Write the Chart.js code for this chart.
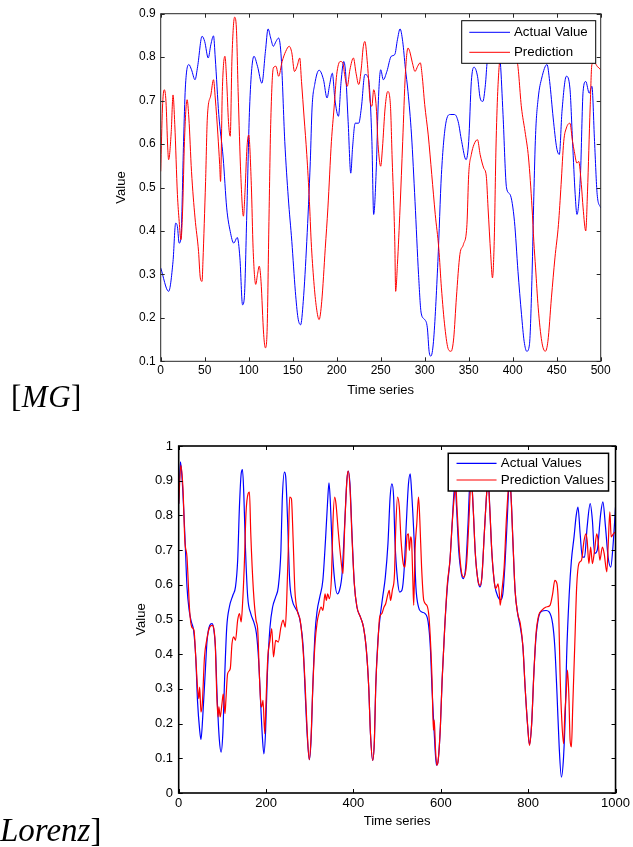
<!DOCTYPE html>
<html>
<head>
<meta charset="utf-8">
<script src="https://cdn.jsdelivr.net/npm/chart.js@4.4.1/dist/chart.umd.min.js"></script>
<style>
  html, body { margin:0; padding:0; background:#fff; }
  body { width:633px; height:847px; position:relative; overflow:hidden; }
  .box { position:absolute; left:0; width:633px; }
  #mgBox { top:0; height:400px; }
  #lzBox { top:420px; height:427px; }
  .lab { position:absolute; font-family:'Liberation Serif','Times New Roman',serif; color:#000; white-space:nowrap; line-height:normal; }
  .lab i { font-style:italic; }
</style>
</head>
<body>
<div class="box" id="mgBox"><canvas id="mg"></canvas></div>
<div class="box" id="lzBox"><canvas id="lz"></canvas></div>
<div class="lab" id="mgLab" style="left:11px; top:379px; font-size:31px; letter-spacing:0.5px;">[<i>MG</i>]</div>
<div class="lab" id="lzLab" style="left:0px; top:812px; font-size:33px;"><i>Lorenz</i>]</div>
<script>
// ---------- MG data ----------
const mgActualT = [0,9,14,17,19,21,23,26,28,32,35,39,42,47,50,54,57,60,62,66,71,75,79,83,87,90,93,95,98,101,106,110,115,119,122,125,128,131,134,137,141,145,149,153,156,159,162,166,170,172,175,180,185,189,192,195,198,202,205,208,210,213,216,218,221,225,228,232,236,240,242,245,247,250,253,257,262,266,269,272,275,278,281,285,289,293,296,300,303,305,307,310,315,319,324,329,334,338,342,347,350,353,356,360,363,366,369,371,375,379,383,386,389,393,397,402,406,410,413,416,419,422,424,426,429,433,439,442,446,450,453,456,461,465,468,471,473,477,480,483,487,490,493,496,500];
const mgActualV = [0.315,0.261,0.33,0.418,0.41,0.372,0.384,0.606,0.729,0.783,0.771,0.748,0.779,0.848,0.836,0.798,0.829,0.849,0.798,0.668,0.568,0.453,0.399,0.372,0.385,0.338,0.23,0.246,0.453,0.683,0.802,0.779,0.74,0.813,0.865,0.844,0.825,0.836,0.844,0.798,0.606,0.476,0.376,0.261,0.2,0.184,0.238,0.376,0.56,0.683,0.737,0.77,0.748,0.706,0.737,0.763,0.702,0.664,0.744,0.79,0.767,0.652,0.533,0.591,0.648,0.648,0.683,0.76,0.752,0.606,0.438,0.545,0.683,0.771,0.748,0.767,0.802,0.806,0.84,0.865,0.836,0.775,0.721,0.621,0.468,0.3,0.211,0.196,0.177,0.123,0.112,0.146,0.33,0.53,0.648,0.668,0.668,0.652,0.606,0.564,0.606,0.744,0.777,0.756,0.706,0.698,0.737,0.79,0.83,0.845,0.82,0.787,0.668,0.499,0.484,0.422,0.307,0.208,0.146,0.123,0.138,0.3,0.48,0.622,0.706,0.752,0.783,0.744,0.66,0.591,0.576,0.675,0.756,0.729,0.606,0.484,0.438,0.53,0.721,0.744,0.717,0.733,0.606,0.484,0.453];
const mgPredT = [0,2,4,6,8,9,12,14,16,19,21,23,25,27,30,32,35,39,43,45,47,48,51,53,57,60,62,65,67,68,70,73,75,77,79,81,84,86,88,91,94,96,98,100,103,105,108,110,112,114,117,119,121,123,125,128,131,134,138,142,146,149,152,155,158,160,163,166,169,171,174,177,180,183,187,190,194,197,200,204,207,209,212,215,219,222,225,228,230,232,235,238,240,242,245,247,250,252,255,258,261,263,266,267,269,272,275,278,281,283,286,289,292,295,297,300,304,308,312,316,319,323,327,330,333,336,340,344,348,350,353,356,360,363,367,370,372,375,377,379,381,383,386,390,395,400,405,410,414,418,422,424,426,429,433,437,440,444,448,452,455,458,461,465,468,470,473,475,478,480,483,485,488,490,493,496,500];
const mgPredV = [0.537,0.683,0.725,0.698,0.591,0.564,0.629,0.713,0.645,0.484,0.422,0.38,0.453,0.606,0.702,0.66,0.537,0.43,0.353,0.292,0.284,0.33,0.514,0.66,0.713,0.748,0.706,0.621,0.553,0.514,0.721,0.802,0.744,0.652,0.618,0.798,0.892,0.867,0.721,0.53,0.434,0.499,0.591,0.621,0.505,0.36,0.277,0.3,0.319,0.284,0.162,0.131,0.177,0.422,0.645,0.775,0.779,0.756,0.79,0.813,0.825,0.81,0.767,0.779,0.798,0.744,0.66,0.576,0.468,0.376,0.284,0.223,0.196,0.238,0.36,0.453,0.606,0.683,0.76,0.79,0.787,0.76,0.733,0.771,0.798,0.763,0.737,0.775,0.821,0.836,0.783,0.698,0.687,0.725,0.683,0.599,0.549,0.591,0.683,0.721,0.691,0.568,0.376,0.261,0.323,0.453,0.606,0.76,0.821,0.813,0.787,0.767,0.779,0.787,0.76,0.691,0.621,0.53,0.438,0.36,0.269,0.177,0.127,0.123,0.154,0.246,0.346,0.369,0.415,0.53,0.576,0.599,0.61,0.576,0.545,0.526,0.453,0.346,0.292,0.376,0.591,0.721,0.798,0.8,0.79,0.8,0.79,0.683,0.629,0.568,0.453,0.376,0.315,0.223,0.146,0.123,0.146,0.246,0.338,0.415,0.507,0.606,0.637,0.648,0.606,0.583,0.556,0.56,0.507,0.453,0.4,0.49,0.683,0.783,0.787,0.779,0.771];
const mgXTicks = [0,50,100,150,200,250,300,350,400,450,500];
const mgYTicks = [0.1,0.2,0.3,0.4,0.5,0.6,0.7,0.8,0.9];
const mgLegend = ['Actual Value','Prediction'];

// ---------- Lorenz data ----------
const lzActualT = [0,4,8,14,19,24,29,34,39,43,48,51,55,61,65,71,76,80,84,88,93,97,101,105,110,116,124,130,135,139,143,146,149,153,158,165,173,178,183,188,192,195,199,203,209,215,222,228,234,237,242,245,249,254,260,268,274,279,285,289,294,299,303,307,312,317,323,330,336,341,344,347,351,357,363,368,374,380,385,388,392,397,402,408,416,423,429,435,439,444,448,451,456,461,467,473,479,484,488,492,495,501,506,511,516,521,526,530,533,539,543,549,556,564,571,576,580,585,590,594,599,603,609,615,621,626,630,633,636,641,647,651,657,662,667,670,674,679,685,690,694,700,706,709,712,717,723,731,737,742,747,752,756,758,761,765,770,776,782,788,793,799,803,808,813,818,824,831,841,848,856,861,866,871,876,881,885,888,894,899,905,910,914,919,924,929,935,942,947,952,958,966,971,977,983,989,994,1000];
const lzActualV = [0.834,0.954,0.901,0.747,0.594,0.526,0.493,0.469,0.392,0.267,0.181,0.154,0.219,0.354,0.44,0.483,0.488,0.474,0.421,0.277,0.154,0.118,0.171,0.325,0.478,0.536,0.57,0.594,0.671,0.824,0.92,0.932,0.863,0.699,0.565,0.517,0.488,0.459,0.382,0.248,0.152,0.113,0.181,0.344,0.478,0.536,0.565,0.594,0.699,0.843,0.925,0.911,0.795,0.613,0.555,0.531,0.517,0.488,0.421,0.305,0.171,0.096,0.152,0.305,0.459,0.526,0.565,0.613,0.728,0.843,0.894,0.843,0.718,0.613,0.574,0.584,0.632,0.776,0.901,0.928,0.891,0.738,0.603,0.536,0.507,0.478,0.421,0.305,0.171,0.094,0.152,0.305,0.44,0.507,0.565,0.622,0.718,0.853,0.891,0.853,0.728,0.613,0.579,0.584,0.642,0.776,0.891,0.92,0.872,0.728,0.594,0.536,0.522,0.517,0.493,0.421,0.296,0.171,0.08,0.094,0.19,0.325,0.478,0.594,0.671,0.776,0.863,0.885,0.824,0.699,0.632,0.618,0.651,0.767,0.9,0.905,0.824,0.69,0.613,0.594,0.622,0.757,0.88,0.905,0.824,0.69,0.603,0.565,0.557,0.574,0.661,0.786,0.89,0.9,0.853,0.728,0.584,0.517,0.478,0.421,0.305,0.19,0.14,0.2,0.344,0.45,0.507,0.524,0.526,0.522,0.488,0.421,0.286,0.133,0.046,0.104,0.229,0.392,0.574,0.671,0.738,0.8,0.824,0.747,0.68,0.68,0.767,0.834,0.786,0.69,0.699,0.805,0.839,0.767,0.68,0.651,0.709,0.824];
const lzPredT = [0,5,10,14,19,22,25,30,35,39,43,46,48,51,54,59,64,71,77,81,84,87,90,92,95,99,102,106,108,112,118,122,126,130,135,139,143,146,150,154,159,162,165,171,177,181,184,188,190,193,197,200,204,209,213,217,222,228,234,239,244,247,251,254,258,262,266,272,278,283,289,294,299,303,307,312,317,321,326,330,335,338,341,345,350,353,357,360,365,370,376,380,385,388,392,397,402,408,416,423,429,435,439,444,448,451,456,460,465,470,474,479,482,485,489,494,497,501,505,509,514,518,523,526,528,531,533,536,538,541,545,549,552,556,561,568,573,577,580,583,585,588,591,594,599,603,609,615,621,626,632,634,637,643,649,653,659,664,668,670,674,679,685,690,694,700,706,708,712,717,722,725,728,731,734,736,740,745,750,755,757,760,765,770,776,782,788,793,799,803,808,813,818,824,831,841,850,856,861,866,870,873,877,881,884,887,890,893,896,899,902,907,911,916,922,928,932,935,939,943,947,952,957,960,964,970,974,980,983,987,990,995,1000];
const lzPredV = [0.834,0.944,0.872,0.728,0.68,0.603,0.526,0.478,0.469,0.392,0.305,0.272,0.305,0.233,0.257,0.392,0.44,0.478,0.483,0.469,0.421,0.286,0.219,0.248,0.219,0.257,0.286,0.229,0.267,0.344,0.358,0.43,0.45,0.44,0.498,0.517,0.493,0.541,0.651,0.805,0.863,0.867,0.747,0.584,0.498,0.469,0.363,0.257,0.248,0.267,0.171,0.267,0.392,0.44,0.474,0.392,0.44,0.435,0.478,0.498,0.478,0.546,0.709,0.853,0.848,0.728,0.584,0.522,0.498,0.44,0.325,0.181,0.096,0.161,0.305,0.43,0.493,0.517,0.536,0.526,0.574,0.555,0.574,0.56,0.632,0.776,0.853,0.834,0.757,0.69,0.632,0.767,0.901,0.928,0.882,0.728,0.603,0.536,0.507,0.478,0.421,0.305,0.171,0.094,0.152,0.305,0.43,0.507,0.517,0.536,0.546,0.574,0.584,0.555,0.584,0.632,0.767,0.853,0.824,0.728,0.661,0.651,0.743,0.747,0.699,0.738,0.728,0.613,0.541,0.699,0.776,0.853,0.786,0.651,0.555,0.541,0.507,0.421,0.325,0.181,0.21,0.123,0.08,0.094,0.19,0.325,0.478,0.603,0.671,0.776,0.872,0.895,0.824,0.69,0.627,0.622,0.661,0.776,0.882,0.9,0.824,0.69,0.613,0.598,0.622,0.757,0.882,0.9,0.824,0.69,0.613,0.589,0.594,0.603,0.574,0.541,0.584,0.651,0.786,0.882,0.895,0.872,0.728,0.584,0.517,0.488,0.421,0.305,0.19,0.137,0.2,0.344,0.459,0.512,0.526,0.536,0.541,0.574,0.613,0.603,0.517,0.344,0.209,0.142,0.229,0.286,0.354,0.286,0.152,0.133,0.248,0.44,0.594,0.661,0.671,0.728,0.747,0.728,0.661,0.709,0.661,0.699,0.747,0.728,0.671,0.709,0.69,0.637,0.709,0.81,0.738,0.747,0.752];
const lzXTicks = [0,200,400,600,800,1000];
const lzYTicks = [0,0.1,0.2,0.3,0.4,0.5,0.6,0.7,0.8,0.9,1];
const lzLegend = ['Actual Values','Prediction Values'];

const BLUE = '#0000ff', RED = '#ff0000';
const FONT = "'Liberation Sans', Arial, Helvetica, sans-serif";
const pts = (t, v) => t.map((x, i) => ({x, y: v[i]}));

// box + inward ticks + legend
const matlabPlugin = {
  id: 'matlab',
  afterDraw(chart, args, o) {
    const {ctx, chartArea: a} = chart;
    const xs = chart.scales.x, ys = chart.scales.y;
    ctx.save();
    ctx.strokeStyle = o.axisColor;
    ctx.lineWidth = o.tickWidth;
    ctx.beginPath();
    xs.ticks.forEach(t => {
      const px = Math.round(xs.getPixelForValue(t.value)) + 0.5;
      ctx.moveTo(px, a.bottom); ctx.lineTo(px, a.bottom - o.tickLen);
      ctx.moveTo(px, a.top); ctx.lineTo(px, a.top + o.tickLen);
    });
    ys.ticks.forEach(t => {
      const py = Math.round(ys.getPixelForValue(t.value)) + 0.5;
      ctx.moveTo(a.left, py); ctx.lineTo(a.left + o.tickLen, py);
      ctx.moveTo(a.right, py); ctx.lineTo(a.right - o.tickLen, py);
    });
    ctx.stroke();
    ctx.lineWidth = o.boxWidth;
    ctx.strokeRect(a.left, a.top, a.right - a.left, a.bottom - a.top);
    // legend
    const L = o.legend;
    const bx = a.right - L.right - L.w, by = a.top + L.top;
    ctx.fillStyle = '#fff';
    ctx.fillRect(bx, by, L.w, L.h);
    ctx.lineWidth = L.border;
    ctx.strokeStyle = '#000';
    ctx.strokeRect(bx, by, L.w, L.h);
    ctx.font = L.fontSize + 'px ' + FONT;
    ctx.textBaseline = 'middle';
    ctx.textAlign = 'left';
    chart.data.datasets.forEach((ds, i) => {
      const ly = by + L.row0 + i * L.rowH;
      ctx.strokeStyle = ds.borderColor;
      ctx.lineWidth = ds.borderWidth;
      ctx.beginPath();
      ctx.moveTo(bx + L.lineX0, ly); ctx.lineTo(bx + L.lineX1, ly);
      ctx.stroke();
      ctx.fillStyle = '#000';
      ctx.fillText(ds.label, bx + L.textX, ly + 0.5);
    });
    ctx.restore();
  }
};

function makeChart(id, cfg) {
  return new Chart(document.getElementById(id), {
    type: 'line',
    data: {
      datasets: [
        {label: cfg.legend[0], data: pts(cfg.aT, cfg.aV), borderColor: BLUE, borderWidth: cfg.lw, pointRadius: 0, cubicInterpolationMode: 'monotone', order: 1},
        {label: cfg.legend[1], data: pts(cfg.pT, cfg.pV), borderColor: RED, borderWidth: cfg.lw, pointRadius: 0, cubicInterpolationMode: 'monotone', order: 0}
      ]
    },
    options: {
      responsive: true, maintainAspectRatio: false, animation: false,
      layout: {padding: {left: 0, right: cfg.padRight, top: cfg.padTop, bottom: 0}},
      plugins: {legend: {display: false}, tooltip: {enabled: false},
        matlab: {axisColor: cfg.axisColor, tickWidth: 1, tickLen: 4, boxWidth: cfg.boxW, legend: cfg.leg}},
      scales: {
        x: {type: 'linear', min: cfg.xT[0], max: cfg.xT[cfg.xT.length - 1],
          grid: {display: false, drawTicks: false}, border: {display: false},
          afterBuildTicks: s => { s.ticks = cfg.xT.map(v => ({value: v})); },
          afterFit: s => { s.height = cfg.xH; },
          ticks: {color: '#000', font: {family: FONT, size: cfg.fs}, padding: cfg.xPad, maxRotation: 0, autoSkip: false,
            callback: v => String(v)},
          title: {display: true, text: 'Time series', color: '#000', font: {family: FONT, size: cfg.tfs}, padding: {top: 0, bottom: cfg.xTitlePad}}
        },
        y: {type: 'linear', min: cfg.yT[0], max: cfg.yT[cfg.yT.length - 1],
          grid: {display: false, drawTicks: false}, border: {display: false},
          afterBuildTicks: s => { s.ticks = cfg.yT.map(v => ({value: v})); },
          afterFit: s => { s.width = cfg.yW; },
          ticks: {color: '#000', font: {family: FONT, size: cfg.fs}, padding: cfg.yPad, autoSkip: false,
            callback: v => String(Math.round(v * 10) / 10)},
          title: {display: true, text: 'Value', color: '#000', font: {family: FONT, size: cfg.tfs}, padding: {top: cfg.yTitlePad, bottom: 0}}
        }
      }
    },
    plugins: [matlabPlugin]
  });
}

makeChart('mg', {
  aT: mgActualT, aV: mgActualV, pT: mgPredT, pV: mgPredV, legend: mgLegend,
  xT: mgXTicks, yT: mgYTicks, lw: 1, fs: 12, tfs: 13,
  padRight: 32.3, padTop: 13.7, xH: 38.7, yW: 160.7,
  xPad: 2, xTitlePad: 2, yPad: 5, yTitlePad: 113.2,
  axisColor: '#262626', boxW: 1,
  leg: {right: 5, top: 7, w: 134, h: 42.6, border: 1, fontSize: 13.3, row0: 11.6, rowH: 20, lineX0: 7.6, lineX1: 48.3, textX: 52.3}
});

makeChart('lz', {
  aT: lzActualT, aV: lzActualV, pT: lzPredT, pV: lzPredV, legend: lzLegend,
  xT: lzXTicks, yT: lzYTicks, lw: 1.2, fs: 13, tfs: 13,
  padRight: 15, padTop: 26, xH: 54, yW: 178.7,
  xPad: 3, xTitlePad: 17.5, yPad: 5.7, yTitlePad: 133.2,
  axisColor: '#000', boxW: 1.6,
  leg: {right: 7, top: 7.3, w: 160.3, h: 37.7, border: 1.5, fontSize: 13.4, row0: 10, rowH: 16.7, lineX0: 8.3, lineX1: 48.3, textX: 52.6}
});
</script>
</body>
</html>
